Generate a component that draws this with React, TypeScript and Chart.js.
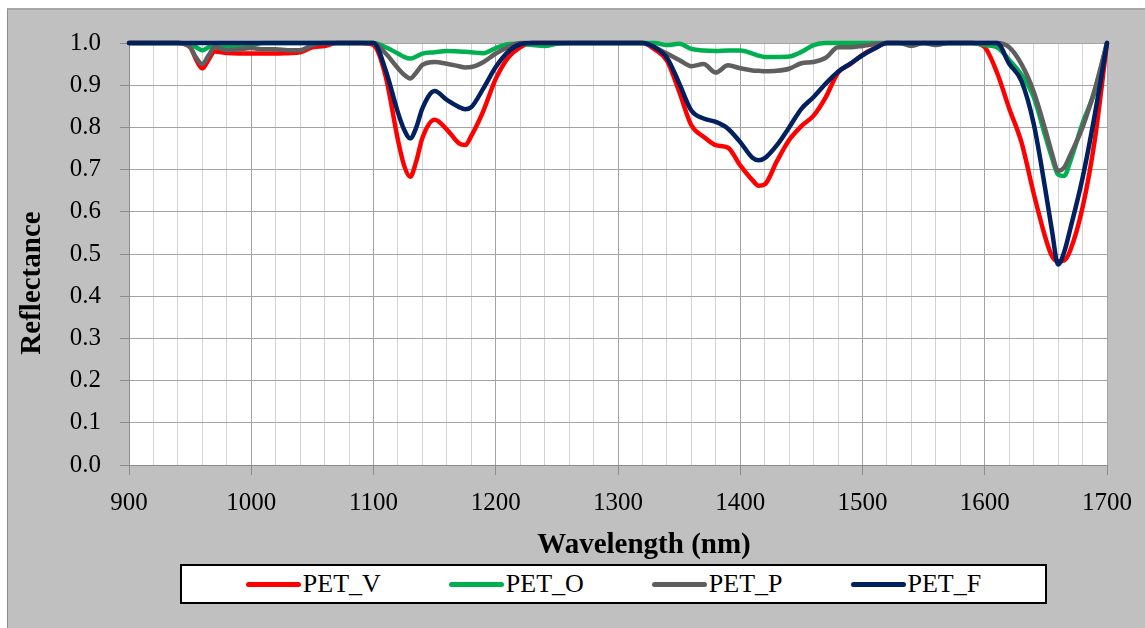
import React, { useEffect, useRef } from "react";
import { Chart, registerables } from "chart.js";

Chart.register(...registerables);

const WAVELENGTHS = [
  900, 910, 920, 930, 940, 950, 955, 960, 965, 970,
  980, 990, 1000, 1010, 1020, 1030, 1040, 1050, 1060, 1070,
  1080, 1090, 1100, 1110, 1120, 1125, 1130, 1135, 1140, 1150,
  1160, 1170, 1175, 1180, 1190, 1200, 1210, 1220, 1230, 1240,
  1250, 1260, 1270, 1280, 1290, 1300, 1310, 1320, 1330, 1340,
  1350, 1360, 1370, 1380, 1390, 1400, 1410, 1415, 1420, 1430,
  1440, 1450, 1460, 1470, 1480, 1490, 1500, 1510, 1520, 1530,
  1540, 1550, 1560, 1570, 1580, 1590, 1600, 1610, 1620, 1630,
  1640, 1650, 1655, 1660, 1665, 1670, 1680, 1690, 1700,
];

const PET_V = [
  1, 1, 1, 1, 1, 0.99, 0.96, 0.94, 0.96, 0.98,
  0.976, 0.975, 0.975, 0.975, 0.975, 0.976, 0.978, 0.99, 0.993, 1,
  1, 1, 0.995, 0.92, 0.77, 0.71, 0.683, 0.72, 0.775, 0.818,
  0.795, 0.762, 0.758, 0.78, 0.84, 0.915, 0.965, 0.99, 1, 1,
  1, 1, 1, 1, 1, 1, 1, 1, 0.985, 0.958,
  0.885, 0.805, 0.778, 0.758, 0.752, 0.71, 0.675, 0.662, 0.665, 0.72,
  0.77, 0.803, 0.828, 0.872, 0.93, 0.95, 0.972, 0.988, 1, 1,
  1, 1, 1, 1, 1, 1, 0.99, 0.93, 0.845, 0.765,
  0.644, 0.535, 0.495, 0.483, 0.485, 0.509, 0.61, 0.77, 1,
];

const PET_O = [
  1, 1, 1, 1, 1, 0.998, 0.99, 0.983, 0.99, 0.995,
  0.993, 0.993, 0.996, 1, 1, 1, 1, 1, 1, 1,
  1, 1, 1, 0.99, 0.975, 0.967, 0.963, 0.968, 0.975, 0.978,
  0.981, 0.98, 0.979, 0.978, 0.976, 0.988, 0.997, 0.998, 0.995, 0.993,
  0.998, 1, 1, 1, 1, 1, 1, 1, 1, 0.995,
  0.998, 0.986, 0.982, 0.981, 0.982, 0.982, 0.975, 0.97, 0.967, 0.967,
  0.968, 0.979, 0.995, 1, 1, 1, 1, 1, 1, 1,
  1, 1, 1, 1, 1, 1, 0.995, 0.99, 0.96, 0.925,
  0.872, 0.775, 0.728, 0.688, 0.685, 0.72, 0.81, 0.885, 1,
];

const PET_P = [
  1, 1, 1, 1, 1, 0.99, 0.965, 0.95, 0.97, 0.99,
  0.983, 0.985, 0.988, 0.985, 0.985, 0.983, 0.983, 0.995, 1, 1,
  1, 1, 1, 0.975, 0.94, 0.925, 0.916, 0.93, 0.948, 0.955,
  0.951, 0.945, 0.942, 0.943, 0.955, 0.975, 0.99, 1, 1, 1,
  1, 1, 1, 1, 1, 1, 1, 1, 0.99, 0.975,
  0.96, 0.945, 0.95, 0.93, 0.947, 0.94, 0.935, 0.934, 0.933, 0.934,
  0.939, 0.952, 0.955, 0.965, 0.99, 0.99, 0.993, 0.997, 1, 1,
  0.993, 1, 0.995, 1, 1, 1, 1, 1, 0.99, 0.95,
  0.885, 0.79, 0.738, 0.697, 0.705, 0.735, 0.8, 0.89, 1,
];

const PET_F = [
  1, 1, 1, 1, 1, 1, 1, 1, 1, 1,
  1, 1, 1, 1, 1, 1, 1, 1, 1, 1,
  1, 1, 1, 0.935, 0.835, 0.795, 0.774, 0.8, 0.845, 0.886,
  0.865, 0.848, 0.843, 0.848, 0.893, 0.943, 0.979, 0.997, 1, 1,
  1, 1, 1, 1, 1, 1, 1, 1, 0.99, 0.965,
  0.905, 0.84, 0.821, 0.813, 0.797, 0.765, 0.728, 0.722, 0.727, 0.758,
  0.8, 0.844, 0.872, 0.904, 0.932, 0.951, 0.971, 0.987, 1, 1,
  1, 1, 1, 1, 1, 1, 1, 1, 0.951, 0.91,
  0.809, 0.645, 0.555, 0.475, 0.505, 0.56, 0.68, 0.83, 1,
];

const SERIES_LABELS = ["PET_V", "PET_O", "PET_P", "PET_F"];
const SERIES_VALUES = [PET_V, PET_O, PET_P, PET_F];
const SERIES_COLORS = ["#ff0000", "#00b050", "#5f5f5f", "#002060"];

const X_MIN = 900;
const X_MAX = 1700;
const X_STEP = 20;
const X_LABEL_EVERY = 100;
const Y_MIN = 0;
const Y_MAX = 1;
const Y_STEP = 0.1;

const X_TITLE = "Wavelength (nm)";
const Y_TITLE = "Reflectance";

const FONT = "'Liberation Serif', 'Times New Roman', serif";

export default function App() {
  const canvasRef = useRef<HTMLCanvasElement>(null);

  useEffect(() => {
    const canvas = canvasRef.current;
    if (!canvas) return;

    const plotBackground = {
      id: "plotBackground",
      beforeDraw(chart: any) {
        const { ctx, chartArea: a } = chart;
        ctx.save();
        ctx.fillStyle = "#ffffff";
        ctx.fillRect(a.left, a.top, a.right - a.left, a.bottom - a.top);
        ctx.restore();
      },
    };

    const axisTitles = {
      id: "axisTitles",
      afterDraw(chart: any) {
        const { ctx, chartArea: a } = chart;
        ctx.save();
        ctx.fillStyle = "#000000";
        ctx.font = `bold 29px ${FONT}`;
        ctx.textAlign = "center";
        ctx.textBaseline = "middle";
        ctx.fillText(X_TITLE, (a.left + a.right) / 2 + 26, a.bottom + 81);
        ctx.translate(33, (a.top + a.bottom) / 2 + 29);
        ctx.rotate(-Math.PI / 2);
        ctx.fillText(Y_TITLE, 0, 0);
        ctx.restore();
      },
    };

    const isMajor = (v: number) => Math.round(v) % X_LABEL_EVERY === 0;

    const chart = new Chart(canvas, {
      type: "line",
      data: {
        datasets: SERIES_LABELS.map((label, i) => ({
          label,
          data: WAVELENGTHS.map((x, j) => ({ x, y: SERIES_VALUES[i][j] })),
          borderColor: SERIES_COLORS[i],
          backgroundColor: SERIES_COLORS[i],
          borderWidth: 4.5,
          pointRadius: 0,
          pointHoverRadius: 0,
          cubicInterpolationMode: "monotone",
          borderCapStyle: "round",
          borderJoinStyle: "round",
          order: SERIES_LABELS.length - i,
          clip: 8,
        })),
      },
      options: {
        animation: false,
        responsive: false,
        maintainAspectRatio: false,
        events: [],
        layout: { padding: { top: 43, right: 35, bottom: 0, left: 0 } },
        plugins: {
          legend: { display: false },
          tooltip: { enabled: false },
        },
        scales: {
          x: {
            type: "linear",
            min: X_MIN,
            max: X_MAX,
            afterFit: (s: any) => {
              s.height = 163;
            },
            ticks: {
              stepSize: X_STEP,
              autoSkip: false,
              maxRotation: 0,
              minRotation: 0,
              padding: 13,
              color: "#000000",
              font: { family: FONT, size: 25 },
              callback: (v: any) => (isMajor(Number(v)) ? String(Math.round(Number(v))) : ""),
            },
            grid: {
              color: (c: any) => (c.tick && isMajor(c.tick.value) ? "#a3a3a3" : "#d2d2d2"),
              tickColor: (c: any) => (c.tick && isMajor(c.tick.value) ? "#8c8c8c" : "rgba(0,0,0,0)"),
              tickLength: 10,
              lineWidth: 1,
            },
            border: { color: "#8c8c8c", width: 1 },
          },
          y: {
            min: Y_MIN,
            max: Y_MAX,
            afterFit: (s: any) => {
              s.width = 129;
            },
            ticks: {
              stepSize: Y_STEP,
              padding: 19,
              color: "#000000",
              font: { family: FONT, size: 25 },
              callback: (v: any) => Number(v).toFixed(1),
            },
            grid: {
              color: "#a3a3a3",
              tickColor: "#8c8c8c",
              tickLength: 9,
              lineWidth: 1,
            },
            border: { color: "#8c8c8c", width: 1 },
          },
        },
      } as any,
      plugins: [plotBackground, axisTitles],
    });

    return () => chart.destroy();
  }, []);

  return (
    <div style={{ position: "relative", width: 1145, height: 628, overflow: "hidden", background: "#ffffff" }}>
      <style>{"body{margin:0;overflow:hidden}"}</style>
      <div
        style={{
          position: "absolute",
          left: 7,
          top: 8,
          right: 0,
          bottom: 0,
          background: "#c0c0c0",
          borderTop: "2px solid #a6a6a6",
          borderLeft: "1px solid #8c8c8c",
        }}
      />
      <canvas ref={canvasRef} width={1145} height={628} style={{ position: "absolute", left: 0, top: 0 }} />
      <div
        style={{
          position: "absolute",
          left: 180,
          top: 564,
          width: 867,
          height: 40,
          boxSizing: "border-box",
          border: "2px solid #000000",
          background: "#ffffff",
          display: "flex",
          alignItems: "center",
          justifyContent: "center",
          gap: 68,
        }}
      >
        {SERIES_LABELS.map((label, i) => (
          <div key={label} style={{ display: "flex", alignItems: "center" }}>
            <span
              style={{
                display: "inline-block",
                width: 55,
                height: 5,
                borderRadius: 3,
                background: SERIES_COLORS[i],
                marginRight: 2,
              }}
            />
            <span style={{ fontFamily: FONT, fontSize: 26, lineHeight: 1, color: "#000000" }}>{label}</span>
          </div>
        ))}
      </div>
    </div>
  );
}
